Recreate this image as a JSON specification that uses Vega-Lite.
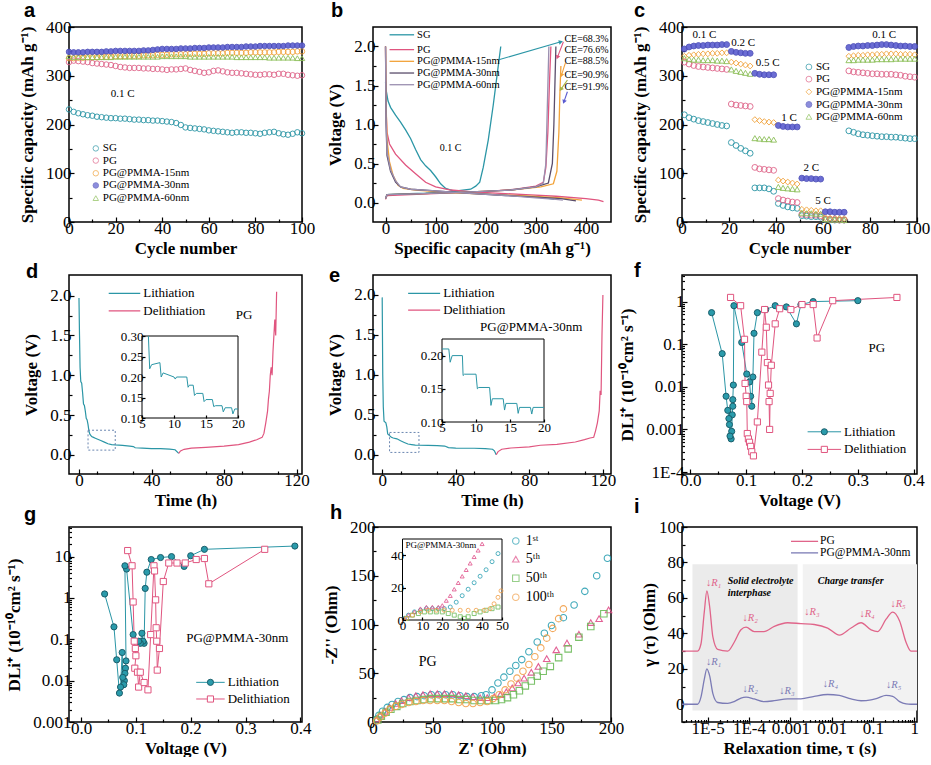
{
  "$schema": "https://vega.github.io/schema/vega-lite/v6.json",
  "padding": {"left": 5, "top": 0, "right": 4, "bottom": 0},
  "background": "white",
  "config": {
    "font": "Liberation Serif",
    "view": {"stroke": "black", "strokeWidth": 1.5},
    "axis": {"grid": false, "domain": false, "tickColor": "black", "tickSize": -5, "tickWidth": 1.2, "labelFont": "Liberation Serif", "labelFontSize": 17, "labelColor": "black", "labelPadding": 3, "labelFlush": false, "labelOverlap": false, "titleFont": "Liberation Serif", "titleFontSize": 17, "titleFontWeight": "bold", "titleColor": "black"},
    "axisX": {"titlePadding": 4},
    "axisY": {"titlePadding": 9},
    "title": {"anchor": "start", "font": "Liberation Sans", "fontSize": 20, "fontWeight": "bold", "color": "black", "baseline": "alphabetic", "frame": "group"},
    "text": {"color": "black"}
  },
  "columns": 3,
  "spacing": {"row": 53, "column": 71},
  "bounds": "flush",
  "resolve": {"scale": {"color": "independent", "fill": "independent", "stroke": "independent", "shape": "independent"}},
  "concat": [
    {
      "title": {"text": "a", "dx": -45, "offset": -3},
      "width": 233, "height": 195,
      "resolve": {"axis": {"x": "independent", "y": "independent"}},
      "layer": [
        {
          "layer": [
            {
              "data": {"values": [
                {"x":0,"SG":231,"PG":328,"P15":336,"P30":349,"P60":340},
                {"x":2,"SG":226,"PG":331,"P15":336,"P30":348,"P60":338},
                {"x":4,"SG":223,"PG":330,"P15":337,"P30":348,"P60":338},
                {"x":6,"SG":221,"PG":329,"P15":337,"P30":348,"P60":338},
                {"x":8,"SG":219,"PG":328,"P15":338,"P30":349,"P60":338},
                {"x":10,"SG":218,"PG":326,"P15":338,"P30":349,"P60":338},
                {"x":12,"SG":216,"PG":325,"P15":338,"P30":349,"P60":338},
                {"x":14,"SG":215,"PG":324,"P15":339,"P30":349,"P60":338},
                {"x":16,"SG":214,"PG":323,"P15":339,"P30":350,"P60":338},
                {"x":18,"SG":213,"PG":322,"P15":339,"P30":350,"P60":338},
                {"x":20,"SG":213,"PG":320,"P15":340,"P30":351,"P60":339},
                {"x":22,"SG":212,"PG":318,"P15":340,"P30":351,"P60":339},
                {"x":24,"SG":212,"PG":317,"P15":340,"P30":351,"P60":339},
                {"x":26,"SG":211,"PG":316,"P15":341,"P30":351,"P60":339},
                {"x":28,"SG":210,"PG":316,"P15":341,"P30":351,"P60":339},
                {"x":30,"SG":210,"PG":316,"P15":341,"P30":351,"P60":339},
                {"x":32,"SG":209,"PG":315,"P15":342,"P30":352,"P60":339},
                {"x":34,"SG":209,"PG":315,"P15":342,"P30":352,"P60":339},
                {"x":36,"SG":208,"PG":314,"P15":342,"P30":353,"P60":339},
                {"x":38,"SG":208,"PG":314,"P15":343,"P30":354,"P60":339},
                {"x":40,"SG":207,"PG":313,"P15":343,"P30":355,"P60":340},
                {"x":42,"SG":206,"PG":312,"P15":343,"P30":355,"P60":340},
                {"x":44,"SG":205,"PG":313,"P15":344,"P30":355,"P60":340},
                {"x":46,"SG":203,"PG":313,"P15":344,"P30":355,"P60":340},
                {"x":48,"SG":199,"PG":314,"P15":344,"P30":356,"P60":340},
                {"x":50,"SG":194,"PG":315,"P15":344,"P30":356,"P60":340},
                {"x":52,"SG":193,"PG":312,"P15":345,"P30":356,"P60":339},
                {"x":54,"SG":192,"PG":310,"P15":345,"P30":357,"P60":339},
                {"x":56,"SG":191,"PG":308,"P15":345,"P30":357,"P60":339},
                {"x":58,"SG":190,"PG":306,"P15":345,"P30":357,"P60":339},
                {"x":60,"SG":188,"PG":307,"P15":346,"P30":358,"P60":339},
                {"x":62,"SG":187,"PG":310,"P15":346,"P30":358,"P60":339},
                {"x":64,"SG":186,"PG":311,"P15":346,"P30":358,"P60":339},
                {"x":66,"SG":185,"PG":309,"P15":346,"P30":358,"P60":339},
                {"x":68,"SG":184,"PG":307,"P15":347,"P30":359,"P60":339},
                {"x":70,"SG":183,"PG":306,"P15":347,"P30":359,"P60":339},
                {"x":72,"SG":184,"PG":306,"P15":347,"P30":359,"P60":338},
                {"x":74,"SG":184,"PG":305,"P15":347,"P30":359,"P60":338},
                {"x":76,"SG":183,"PG":304,"P15":347,"P30":360,"P60":338},
                {"x":78,"SG":183,"PG":303,"P15":348,"P30":360,"P60":338},
                {"x":80,"SG":182,"PG":302,"P15":348,"P30":360,"P60":338},
                {"x":82,"SG":181,"PG":302,"P15":348,"P30":361,"P60":338},
                {"x":84,"SG":183,"PG":303,"P15":348,"P30":361,"P60":338},
                {"x":86,"SG":184,"PG":303,"P15":348,"P30":361,"P60":337},
                {"x":88,"SG":185,"PG":302,"P15":348,"P30":361,"P60":337},
                {"x":90,"SG":182,"PG":304,"P15":349,"P30":361,"P60":337},
                {"x":92,"SG":180,"PG":304,"P15":349,"P30":361,"P60":337},
                {"x":94,"SG":179,"PG":302,"P15":349,"P30":362,"P60":337},
                {"x":96,"SG":181,"PG":301,"P15":349,"P30":362,"P60":337},
                {"x":98,"SG":184,"PG":300,"P15":350,"P30":362,"P60":336},
                {"x":100,"SG":182,"PG":301,"P15":350,"P30":362,"P60":336}
              ]},
              "transform": [{"fold": ["SG", "PG", "P15", "P60", "P30"], "as": ["s", "y"]}],
              "mark": {"type": "point", "size": 30, "strokeWidth": 1, "opacity": 0.9},
              "encoding": {
                "x": {"field": "x", "type": "quantitative", "scale": {"domain": [0, 100], "nice": false}, "axis": {"values": [0, 20, 40, 60, 80, 100], "title": "Cycle number"}},
                "y": {"field": "y", "type": "quantitative", "scale": {"domain": [0, 400], "nice": false}, "axis": {"values": [0, 100, 200, 300, 400], "title": "Specific capacity (mAh g⁻¹)"}},
                "shape": {"field": "s", "type": "nominal", "legend": null, "scale": {"domain": ["SG", "PG", "P15", "P30", "P60"], "range": ["circle", "circle", "circle", "circle", "triangle-up"]}},
                "stroke": {"field": "s", "type": "nominal", "legend": null, "scale": {"domain": ["SG", "PG", "P15", "P30", "P60"], "range": ["#2b96a6", "#e0658a", "#f2a33a", "#4b4db8", "#8cbf58"]}},
                "fill": {"field": "s", "type": "nominal", "legend": null, "scale": {"domain": ["SG", "PG", "P15", "P30", "P60"], "range": ["transparent", "transparent", "transparent", "#5c5ed0", "transparent"]}}
              }
            },
            {
              "data": {"values": [
                {"x": 11.5, "y": 151, "s": "SG", "t": "SG"},
                {"x": 11.5, "y": 126, "s": "PG", "t": "PG"},
                {"x": 11.5, "y": 100, "s": "P15", "t": "PG@PMMA-15nm"},
                {"x": 11.5, "y": 75, "s": "P30", "t": "PG@PMMA-30nm"},
                {"x": 11.5, "y": 49, "s": "P60", "t": "PG@PMMA-60nm"}
              ]},
              "layer": [
                {
                  "mark": {"type": "point", "size": 30, "strokeWidth": 1},
                  "encoding": {
                    "x": {"field": "x", "type": "quantitative"},
                    "y": {"field": "y", "type": "quantitative"},
                    "shape": {"field": "s", "type": "nominal", "legend": null},
                    "stroke": {"field": "s", "type": "nominal", "legend": null},
                    "fill": {"field": "s", "type": "nominal", "legend": null}
                  }
                },
                {
                  "mark": {"type": "text", "align": "left", "baseline": "middle", "fontSize": 11, "dx": 7},
                  "encoding": {"x": {"field": "x", "type": "quantitative"}, "y": {"field": "y", "type": "quantitative"}, "text": {"field": "t"}}
                }
              ]
            },
            {
              "data": {"values": [{"x": 23, "y": 262, "t": "0.1 C"}]},
              "mark": {"type": "text", "fontSize": 11},
              "encoding": {"x": {"field": "x", "type": "quantitative"}, "y": {"field": "y", "type": "quantitative"}, "text": {"field": "t"}}
            }
          ]
        },
        {
          "data": {"values": [{"x": 50, "y": 200}]},
          "mark": {"type": "point", "opacity": 0},
          "encoding": {
            "x": {"field": "x", "type": "quantitative", "axis": {"orient": "bottom", "values": [10, 30, 50, 70, 90], "labels": false, "title": null, "tickSize": -3}},
            "y": {"field": "y", "type": "quantitative", "axis": {"orient": "left", "values": [50, 150, 250, 350], "labels": false, "title": null, "tickSize": -3}}
          }
        }
      ]
    },
    {
      "title": {"text": "b", "dx": -42, "offset": 6},
      "width": 238, "height": 195,
      "resolve": {"axis": {"x": "independent", "y": "independent"}},
      "layer": [
        {
          "layer": [
            {
              "data": {"values": [
                {"s":"SG","k":"SGd","x":0,"y":1.55},{"s":"SG","k":"SGd","x":1,"y":1.45},{"s":"SG","k":"SGd","x":5,"y":1.3},{"s":"SG","k":"SGd","x":10,"y":1.22},{"s":"SG","k":"SGd","x":20,"y":1.12},{"s":"SG","k":"SGd","x":30,"y":1.03},{"s":"SG","k":"SGd","x":40,"y":0.93},{"s":"SG","k":"SGd","x":50,"y":0.82},{"s":"SG","k":"SGd","x":60,"y":0.68},{"s":"SG","k":"SGd","x":70,"y":0.55},{"s":"SG","k":"SGd","x":80,"y":0.47},{"s":"SG","k":"SGd","x":90,"y":0.41},{"s":"SG","k":"SGd","x":100,"y":0.33},{"s":"SG","k":"SGd","x":110,"y":0.24},{"s":"SG","k":"SGd","x":120,"y":0.18},{"s":"SG","k":"SGd","x":140,"y":0.14},{"s":"SG","k":"SGd","x":170,"y":0.12},{"s":"SG","k":"SGd","x":220,"y":0.1},{"s":"SG","k":"SGd","x":280,"y":0.08},{"s":"SG","k":"SGd","x":320,"y":0.06},{"s":"SG","k":"SGd","x":337,"y":0.04},
                {"s":"SG","k":"SGc","x":0,"y":0.05},{"s":"SG","k":"SGc","x":3,"y":0.1},{"s":"SG","k":"SGc","x":30,"y":0.11},{"s":"SG","k":"SGc","x":80,"y":0.12},{"s":"SG","k":"SGc","x":130,"y":0.14},{"s":"SG","k":"SGc","x":170,"y":0.17},{"s":"SG","k":"SGc","x":180,"y":0.21},{"s":"SG","k":"SGc","x":188,"y":0.26},{"s":"SG","k":"SGc","x":195,"y":0.45},{"s":"SG","k":"SGc","x":205,"y":0.8},{"s":"SG","k":"SGc","x":215,"y":1.25},{"s":"SG","k":"SGc","x":222,"y":1.6},{"s":"SG","k":"SGc","x":230,"y":2.0},
                {"s":"PG","k":"PGd","x":0,"y":2.0},{"s":"PG","k":"PGd","x":1,"y":1.2},{"s":"PG","k":"PGd","x":3,"y":0.9},{"s":"PG","k":"PGd","x":8,"y":0.75},{"s":"PG","k":"PGd","x":20,"y":0.62},{"s":"PG","k":"PGd","x":40,"y":0.48},{"s":"PG","k":"PGd","x":60,"y":0.37},{"s":"PG","k":"PGd","x":80,"y":0.26},{"s":"PG","k":"PGd","x":100,"y":0.2},{"s":"PG","k":"PGd","x":130,"y":0.16},{"s":"PG","k":"PGd","x":170,"y":0.14},{"s":"PG","k":"PGd","x":220,"y":0.12},{"s":"PG","k":"PGd","x":280,"y":0.1},{"s":"PG","k":"PGd","x":340,"y":0.08},{"s":"PG","k":"PGd","x":400,"y":0.05},{"s":"PG","k":"PGd","x":425,"y":0.03},{"s":"PG","k":"PGd","x":435,"y":0.01},
                {"s":"PG","k":"PGc","x":0,"y":0.04},{"s":"PG","k":"PGc","x":3,"y":0.09},{"s":"PG","k":"PGc","x":50,"y":0.1},{"s":"PG","k":"PGc","x":120,"y":0.12},{"s":"PG","k":"PGc","x":200,"y":0.14},{"s":"PG","k":"PGc","x":260,"y":0.17},{"s":"PG","k":"PGc","x":300,"y":0.21},{"s":"PG","k":"PGc","x":315,"y":0.26},{"s":"PG","k":"PGc","x":320,"y":0.45},{"s":"PG","k":"PGc","x":324,"y":0.9},{"s":"PG","k":"PGc","x":327,"y":1.5},{"s":"PG","k":"PGc","x":330,"y":2.0},
                {"s":"P15","k":"P15d","x":0,"y":2.0},{"s":"P15","k":"P15d","x":1,"y":1.3},{"s":"P15","k":"P15d","x":3,"y":0.8},{"s":"P15","k":"P15d","x":8,"y":0.52},{"s":"P15","k":"P15d","x":15,"y":0.35},{"s":"P15","k":"P15d","x":25,"y":0.22},{"s":"P15","k":"P15d","x":35,"y":0.18},{"s":"P15","k":"P15d","x":60,"y":0.16},{"s":"P15","k":"P15d","x":100,"y":0.14},{"s":"P15","k":"P15d","x":150,"y":0.12},{"s":"P15","k":"P15d","x":220,"y":0.1},{"s":"P15","k":"P15d","x":290,"y":0.08},{"s":"P15","k":"P15d","x":350,"y":0.06},{"s":"P15","k":"P15d","x":392,"y":0.03},
                {"s":"P15","k":"P15c","x":0,"y":0.05},{"s":"P15","k":"P15c","x":3,"y":0.1},{"s":"P15","k":"P15c","x":60,"y":0.11},{"s":"P15","k":"P15c","x":150,"y":0.13},{"s":"P15","k":"P15c","x":250,"y":0.16},{"s":"P15","k":"P15c","x":310,"y":0.2},{"s":"P15","k":"P15c","x":335,"y":0.24},{"s":"P15","k":"P15c","x":342,"y":0.4},{"s":"P15","k":"P15c","x":346,"y":0.9},{"s":"P15","k":"P15c","x":348,"y":1.4},{"s":"P15","k":"P15c","x":350,"y":1.75},
                {"s":"P30","k":"P30d","x":0,"y":2.0},{"s":"P30","k":"P30d","x":1,"y":1.0},{"s":"P30","k":"P30d","x":3,"y":0.6},{"s":"P30","k":"P30d","x":10,"y":0.4},{"s":"P30","k":"P30d","x":20,"y":0.26},{"s":"P30","k":"P30d","x":30,"y":0.2},{"s":"P30","k":"P30d","x":50,"y":0.17},{"s":"P30","k":"P30d","x":100,"y":0.15},{"s":"P30","k":"P30d","x":160,"y":0.12},{"s":"P30","k":"P30d","x":240,"y":0.09},{"s":"P30","k":"P30d","x":300,"y":0.07},{"s":"P30","k":"P30d","x":350,"y":0.05},{"s":"P30","k":"P30d","x":380,"y":0.02},
                {"s":"P30","k":"P30c","x":0,"y":0.05},{"s":"P30","k":"P30c","x":3,"y":0.1},{"s":"P30","k":"P30c","x":60,"y":0.11},{"s":"P30","k":"P30c","x":150,"y":0.13},{"s":"P30","k":"P30c","x":250,"y":0.16},{"s":"P30","k":"P30c","x":300,"y":0.2},{"s":"P30","k":"P30c","x":325,"y":0.25},{"s":"P30","k":"P30c","x":333,"y":0.5},{"s":"P30","k":"P30c","x":336,"y":1.0},{"s":"P30","k":"P30c","x":338,"y":1.5},{"s":"P30","k":"P30c","x":340,"y":2.0},
                {"s":"P60","k":"P60d","x":0,"y":2.0},{"s":"P60","k":"P60d","x":1,"y":1.1},{"s":"P60","k":"P60d","x":3,"y":0.65},{"s":"P60","k":"P60d","x":10,"y":0.42},{"s":"P60","k":"P60d","x":20,"y":0.28},{"s":"P60","k":"P60d","x":30,"y":0.2},{"s":"P60","k":"P60d","x":50,"y":0.17},{"s":"P60","k":"P60d","x":100,"y":0.15},{"s":"P60","k":"P60d","x":160,"y":0.12},{"s":"P60","k":"P60d","x":240,"y":0.09},{"s":"P60","k":"P60d","x":300,"y":0.06},{"s":"P60","k":"P60d","x":340,"y":0.04},{"s":"P60","k":"P60d","x":354,"y":0.03},
                {"s":"P60","k":"P60c","x":0,"y":0.05},{"s":"P60","k":"P60c","x":3,"y":0.1},{"s":"P60","k":"P60c","x":60,"y":0.11},{"s":"P60","k":"P60c","x":150,"y":0.13},{"s":"P60","k":"P60c","x":250,"y":0.16},{"s":"P60","k":"P60c","x":300,"y":0.2},{"s":"P60","k":"P60c","x":315,"y":0.25},{"s":"P60","k":"P60c","x":320,"y":0.5},{"s":"P60","k":"P60c","x":322,"y":1.0},{"s":"P60","k":"P60c","x":324,"y":1.5},{"s":"P60","k":"P60c","x":326,"y":2.0}
              ]},
              "mark": {"type": "line", "strokeWidth": 1.3},
              "encoding": {
                "x": {"field": "x", "type": "quantitative", "scale": {"domain": [-25, 450], "nice": false, "zero": false}, "axis": {"values": [0, 100, 200, 300, 400], "title": "Specific capacity (mAh g⁻¹)"}},
                "y": {"field": "y", "type": "quantitative", "scale": {"domain": [-0.25, 2.25], "nice": false, "zero": false}, "axis": {"values": [0, 0.5, 1, 1.5, 2], "format": ".1f", "title": "Voltage (V)"}},
                "color": {"field": "s", "type": "nominal", "legend": null, "scale": {"domain": ["SG", "PG", "P15", "P30", "P60"], "range": ["#2b96a6", "#e0557f", "#f2a33a", "#5a4d6b", "#9a8fb0"]}},
                "detail": {"field": "k"}
              }
            },
            {
              "data": {"values": [
                {"x": 8, "x2": 57, "y": 2.15, "s": "SG", "t": "SG"},
                {"x": 8, "x2": 57, "y": 1.96, "s": "PG", "t": "PG"},
                {"x": 8, "x2": 57, "y": 1.81, "s": "P15", "t": "PG@PMMA-15nm"},
                {"x": 8, "x2": 57, "y": 1.66, "s": "P30", "t": "PG@PMMA-30nm"},
                {"x": 8, "x2": 57, "y": 1.51, "s": "P60", "t": "PG@PMMA-60nm"}
              ]},
              "layer": [
                {"mark": {"type": "rule", "strokeWidth": 1.3}, "encoding": {"x": {"field": "x", "type": "quantitative"}, "x2": {"field": "x2"}, "y": {"field": "y", "type": "quantitative"}, "color": {"field": "s", "type": "nominal", "legend": null}}},
                {"mark": {"type": "text", "align": "left", "baseline": "middle", "fontSize": 10.5, "dx": 3}, "encoding": {"x": {"field": "x2", "type": "quantitative"}, "y": {"field": "y", "type": "quantitative"}, "text": {"field": "t"}}}
              ]
            },
            {
              "data": {"values": [
                {"x": 226, "y": 1.83, "x2": 350, "y2": 2.06, "c": "#2b96a6", "a": 74},
                {"x": 355, "y": 2.06, "x2": 343, "y2": 1.86, "c": "#e0557f", "a": 201},
                {"x": 359, "y": 1.79, "x2": 351, "y2": 1.63, "c": "#f2a33a", "a": 198},
                {"x": 363, "y": 1.57, "x2": 350, "y2": 1.45, "c": "#a6b446", "a": 214},
                {"x": 363, "y": 1.42, "x2": 356, "y2": 1.29, "c": "#5a5ad0", "a": 201}
              ]},
              "layer": [
                {"mark": {"type": "rule", "strokeWidth": 1.1}, "encoding": {"x": {"field": "x", "type": "quantitative"}, "x2": {"field": "x2"}, "y": {"field": "y", "type": "quantitative"}, "y2": {"field": "y2"}, "stroke": {"field": "c", "type": "nominal", "scale": null}}},
                {"mark": {"type": "point", "shape": "triangle-up", "filled": true, "size": 22, "opacity": 1}, "encoding": {"x": {"field": "x2", "type": "quantitative"}, "y": {"field": "y2", "type": "quantitative"}, "fill": {"field": "c", "type": "nominal", "scale": null}, "angle": {"field": "a", "type": "quantitative", "scale": null}}}
              ]
            },
            {
              "data": {"values": [
                {"x": 357, "y": 2.09, "t": "CE=68.3%"},
                {"x": 357, "y": 1.96, "t": "CE=76.6%"},
                {"x": 357, "y": 1.81, "t": "CE=88.5%"},
                {"x": 357, "y": 1.64, "t": "CE=90.9%"},
                {"x": 357, "y": 1.48, "t": "CE=91.9%"},
                {"x": 108, "y": 0.7, "t": "0.1 C"}
              ]},
              "mark": {"type": "text", "align": "left", "baseline": "middle", "fontSize": 10},
              "encoding": {"x": {"field": "x", "type": "quantitative"}, "y": {"field": "y", "type": "quantitative"}, "text": {"field": "t"}}
            }
          ]
        },
        {
          "data": {"values": [{"x": 100, "y": 1}]},
          "mark": {"type": "point", "opacity": 0},
          "encoding": {
            "x": {"field": "x", "type": "quantitative", "axis": {"orient": "bottom", "values": [50, 150, 250, 350], "labels": false, "title": null, "tickSize": -3}},
            "y": {"field": "y", "type": "quantitative", "axis": {"orient": "left", "values": [0.25, 0.75, 1.25, 1.75], "labels": false, "title": null, "tickSize": -3}}
          }
        }
      ]
    },
    {
      "title": {"text": "c", "dx": -48, "offset": -3},
      "width": 235, "height": 195,
      "resolve": {"axis": {"x": "independent", "y": "independent"}},
      "layer": [
        {
          "layer": [
            {
              "data": {"values": [
                {"x":1,"SG":220,"PG":328,"P15":340,"P30":355,"P60":336},
                {"x":3,"SG":214,"PG":324,"P15":342,"P30":359,"P60":334},
                {"x":5,"SG":211,"PG":321,"P15":343,"P30":361,"P60":333},
                {"x":7,"SG":208,"PG":319,"P15":344,"P30":362,"P60":333},
                {"x":9,"SG":206,"PG":318,"P15":345,"P30":362,"P60":332},
                {"x":11,"SG":204,"PG":317,"P15":345,"P30":363,"P60":332},
                {"x":13,"SG":202,"PG":316,"P15":346,"P30":363,"P60":332},
                {"x":15,"SG":200,"PG":315,"P15":346,"P30":363,"P60":331},
                {"x":17,"SG":198,"PG":314,"P15":347,"P30":364,"P60":331},
                {"x":19,"SG":197,"PG":313,"P15":347,"P30":364,"P60":330},
                {"x":21,"SG":163,"PG":242,"P15":328,"P30":350,"P60":313},
                {"x":23,"SG":157,"PG":240,"P15":326,"P30":348,"P60":310},
                {"x":25,"SG":151,"PG":239,"P15":324,"P30":347,"P60":308},
                {"x":27,"SG":146,"PG":238,"P15":322,"P30":346,"P60":306},
                {"x":29,"SG":141,"PG":237,"P15":320,"P30":346,"P60":304},
                {"x":31,"SG":70,"PG":112,"P15":210,"P30":305,"P60":172},
                {"x":33,"SG":70,"PG":109,"P15":208,"P30":303,"P60":171},
                {"x":35,"SG":70,"PG":108,"P15":206,"P30":302,"P60":170},
                {"x":37,"SG":68,"PG":107,"P15":205,"P30":302,"P60":170},
                {"x":39,"SG":63,"PG":106,"P15":204,"P30":302,"P60":169},
                {"x":41,"SG":38,"PG":48,"P15":86,"P30":198,"P60":72},
                {"x":43,"SG":34,"PG":45,"P15":84,"P30":196,"P60":70},
                {"x":45,"SG":31,"PG":43,"P15":82,"P30":195,"P60":69},
                {"x":47,"SG":29,"PG":41,"P15":80,"P30":195,"P60":68},
                {"x":49,"SG":28,"PG":40,"P15":78,"P30":195,"P60":67},
                {"x":51,"SG":13,"PG":16,"P15":26,"P30":90,"P60":19},
                {"x":53,"SG":12,"PG":15,"P15":25,"P30":89,"P60":18},
                {"x":55,"SG":11,"PG":14,"P15":24,"P30":89,"P60":18},
                {"x":57,"SG":11,"PG":14,"P15":23,"P30":88,"P60":17},
                {"x":59,"SG":10,"PG":13,"P15":23,"P30":88,"P60":17},
                {"x":61,"SG":5,"PG":6,"P15":9,"P30":21,"P60":6},
                {"x":63,"SG":5,"PG":5,"P15":8,"P30":21,"P60":5},
                {"x":65,"SG":4,"PG":5,"P15":8,"P30":20,"P60":5},
                {"x":67,"SG":4,"PG":4,"P15":7,"P30":20,"P60":5},
                {"x":69,"SG":4,"PG":4,"P15":7,"P30":20,"P60":4},
                {"x":71,"SG":187,"PG":310,"P15":340,"P30":358,"P60":332},
                {"x":73,"SG":184,"PG":308,"P15":341,"P30":360,"P60":332},
                {"x":75,"SG":181,"PG":307,"P15":342,"P30":361,"P60":333},
                {"x":77,"SG":179,"PG":306,"P15":342,"P30":361,"P60":333},
                {"x":79,"SG":178,"PG":305,"P15":343,"P30":362,"P60":333},
                {"x":81,"SG":177,"PG":304,"P15":343,"P30":362,"P60":333},
                {"x":83,"SG":176,"PG":304,"P15":344,"P30":363,"P60":334},
                {"x":85,"SG":175,"PG":303,"P15":344,"P30":364,"P60":334},
                {"x":87,"SG":175,"PG":303,"P15":345,"P30":364,"P60":334},
                {"x":89,"SG":174,"PG":303,"P15":345,"P30":363,"P60":334},
                {"x":91,"SG":174,"PG":302,"P15":345,"P30":362,"P60":335},
                {"x":93,"SG":173,"PG":301,"P15":344,"P30":361,"P60":335},
                {"x":95,"SG":172,"PG":299,"P15":344,"P30":361,"P60":335},
                {"x":97,"SG":171,"PG":298,"P15":344,"P30":360,"P60":335},
                {"x":99,"SG":171,"PG":297,"P15":343,"P30":360,"P60":335}
              ]},
              "transform": [{"fold": ["SG", "PG", "P15", "P60", "P30"], "as": ["s", "y"]}],
              "mark": {"type": "point", "size": 34, "strokeWidth": 1, "opacity": 0.9},
              "encoding": {
                "x": {"field": "x", "type": "quantitative", "scale": {"domain": [0, 100], "nice": false}, "axis": {"values": [0, 20, 40, 60, 80, 100], "title": "Cycle number"}},
                "y": {"field": "y", "type": "quantitative", "scale": {"domain": [0, 400], "nice": false}, "axis": {"values": [0, 100, 200, 300, 400], "title": "Specific capacity (mAh g⁻¹)"}},
                "shape": {"field": "s", "type": "nominal", "legend": null, "scale": {"domain": ["SG", "PG", "P15", "P30", "P60"], "range": ["circle", "circle", "diamond", "circle", "triangle-up"]}},
                "stroke": {"field": "s", "type": "nominal", "legend": null, "scale": {"domain": ["SG", "PG", "P15", "P30", "P60"], "range": ["#2b96a6", "#e0658a", "#f2a33a", "#4b4db8", "#8cbf58"]}},
                "fill": {"field": "s", "type": "nominal", "legend": null, "scale": {"domain": ["SG", "PG", "P15", "P30", "P60"], "range": ["transparent", "transparent", "transparent", "#5c5ed0", "transparent"]}}
              }
            },
            {
              "data": {"values": [
                {"x": 54, "y": 318, "s": "SG", "t": "SG"},
                {"x": 54, "y": 293, "s": "PG", "t": "PG"},
                {"x": 54, "y": 267, "s": "P15", "t": "PG@PMMA-15nm"},
                {"x": 54, "y": 241, "s": "P30", "t": "PG@PMMA-30nm"},
                {"x": 54, "y": 216, "s": "P60", "t": "PG@PMMA-60nm"}
              ]},
              "layer": [
                {
                  "mark": {"type": "point", "size": 34, "strokeWidth": 1},
                  "encoding": {
                    "x": {"field": "x", "type": "quantitative"},
                    "y": {"field": "y", "type": "quantitative"},
                    "shape": {"field": "s", "type": "nominal", "legend": null},
                    "stroke": {"field": "s", "type": "nominal", "legend": null},
                    "fill": {"field": "s", "type": "nominal", "legend": null}
                  }
                },
                {
                  "mark": {"type": "text", "align": "left", "baseline": "middle", "fontSize": 11, "dx": 7},
                  "encoding": {"x": {"field": "x", "type": "quantitative"}, "y": {"field": "y", "type": "quantitative"}, "text": {"field": "t"}}
                }
              ]
            },
            {
              "data": {"values": [
                {"x": 9.5, "y": 384, "t": "0.1 C"},
                {"x": 26, "y": 368, "t": "0.2 C"},
                {"x": 36.5, "y": 327, "t": "0.5 C"},
                {"x": 45.5, "y": 213, "t": "1 C"},
                {"x": 55, "y": 111, "t": "2 C"},
                {"x": 60, "y": 44, "t": "5 C"},
                {"x": 86, "y": 384, "t": "0.1 C"}
              ]},
              "mark": {"type": "text", "fontSize": 11},
              "encoding": {"x": {"field": "x", "type": "quantitative"}, "y": {"field": "y", "type": "quantitative"}, "text": {"field": "t"}}
            }
          ]
        },
        {
          "data": {"values": [{"x": 50, "y": 200}]},
          "mark": {"type": "point", "opacity": 0},
          "encoding": {
            "x": {"field": "x", "type": "quantitative", "axis": {"orient": "bottom", "values": [10, 30, 50, 70, 90], "labels": false, "title": null, "tickSize": -3}},
            "y": {"field": "y", "type": "quantitative", "axis": {"orient": "left", "values": [50, 150, 250, 350], "labels": false, "title": null, "tickSize": -3}}
          }
        }
      ]
    },
    {
      "title": {"text": "d", "dx": -43, "offset": -6.5},
      "width": 233, "height": 199,
      "resolve": {"scale": {"x": "independent", "y": "independent"}},
      "layer": [
        {
          "resolve": {"axis": {"x": "independent", "y": "independent"}},
          "layer": [
            {
              "layer": [
                {
                  "data": {"values": [
                    {"s":"Lithiation","x":0,"y":1.97},{"s":"Lithiation","x":0.3,"y":1.5},{"s":"Lithiation","x":0.6,"y":1.1},{"s":"Lithiation","x":1,"y":0.92},{"s":"Lithiation","x":1.5,"y":0.9},{"s":"Lithiation","x":2,"y":0.78},{"s":"Lithiation","x":2.5,"y":0.64},{"s":"Lithiation","x":3,"y":0.62},{"s":"Lithiation","x":3.5,"y":0.55},{"s":"Lithiation","x":4,"y":0.46},{"s":"Lithiation","x":4.5,"y":0.44},{"s":"Lithiation","x":5,"y":0.38},{"s":"Lithiation","x":5.5,"y":0.3},{"s":"Lithiation","x":6,"y":0.26},{"s":"Lithiation","x":7,"y":0.23},{"s":"Lithiation","x":8,"y":0.22},{"s":"Lithiation","x":9,"y":0.21},{"s":"Lithiation","x":10,"y":0.2},{"s":"Lithiation","x":12,"y":0.18},{"s":"Lithiation","x":14,"y":0.16},{"s":"Lithiation","x":16,"y":0.14},{"s":"Lithiation","x":18,"y":0.13},{"s":"Lithiation","x":20,"y":0.125},{"s":"Lithiation","x":24,"y":0.12},{"s":"Lithiation","x":28,"y":0.11},{"s":"Lithiation","x":30,"y":0.105},{"s":"Lithiation","x":31,"y":0.09},{"s":"Lithiation","x":35,"y":0.085},{"s":"Lithiation","x":40,"y":0.08},{"s":"Lithiation","x":45,"y":0.078},{"s":"Lithiation","x":50,"y":0.072},{"s":"Lithiation","x":53,"y":0.065},{"s":"Lithiation","x":55,"y":0.02},
                    {"s":"Delithiation","x":55,"y":0.02},{"s":"Delithiation","x":56,"y":0.05},{"s":"Delithiation","x":58,"y":0.07},{"s":"Delithiation","x":62,"y":0.085},{"s":"Delithiation","x":70,"y":0.095},{"s":"Delithiation","x":80,"y":0.11},{"s":"Delithiation","x":88,"y":0.13},{"s":"Delithiation","x":94,"y":0.16},{"s":"Delithiation","x":98,"y":0.19},{"s":"Delithiation","x":101,"y":0.22},{"s":"Delithiation","x":102,"y":0.27},{"s":"Delithiation","x":103,"y":0.4},{"s":"Delithiation","x":104,"y":0.55},{"s":"Delithiation","x":104.5,"y":0.7},{"s":"Delithiation","x":105,"y":0.8},{"s":"Delithiation","x":105.5,"y":1.0},{"s":"Delithiation","x":106,"y":1.1},{"s":"Delithiation","x":106.5,"y":1.0},{"s":"Delithiation","x":107,"y":1.3},{"s":"Delithiation","x":107.5,"y":1.5},{"s":"Delithiation","x":108,"y":1.7},{"s":"Delithiation","x":108.5,"y":1.5},{"s":"Delithiation","x":109,"y":2.05}
                  ]},
                  "mark": {"type": "line", "strokeWidth": 1.2},
                  "encoding": {
                    "x": {"field": "x", "type": "quantitative", "scale": {"domain": [-5.5, 123], "nice": false, "zero": false}, "axis": {"values": [0, 20, 40, 60, 80, 100, 120], "title": "Time (h)"}},
                    "y": {"field": "y", "type": "quantitative", "scale": {"domain": [-0.24, 2.26], "nice": false, "zero": false}, "axis": {"values": [0, 0.5, 1, 1.5, 2], "format": ".1f", "title": "Voltage (V)"}},
                    "color": {"field": "s", "type": "nominal", "legend": null, "scale": {"domain": ["Lithiation", "Delithiation"], "range": ["#2b96a6", "#e0557f"]}}
                  }
                },
                {
                  "data": {"values": [{"x": 5, "x2": 20, "y": 0.06, "y2": 0.31}]},
                  "mark": {"type": "rect", "filled": false, "stroke": "#6a86b0", "strokeDash": [2, 2], "strokeWidth": 1},
                  "encoding": {"x": {"field": "x", "type": "quantitative"}, "x2": {"field": "x2"}, "y": {"field": "y", "type": "quantitative"}, "y2": {"field": "y2"}}
                },
                {
                  "data": {"values": [
                    {"x": 16.4, "x2": 33.8, "y": 2.03, "s": "Lithiation", "t": "Lithiation"},
                    {"x": 16.4, "x2": 33.8, "y": 1.81, "s": "Delithiation", "t": "Delithiation"}
                  ]},
                  "layer": [
                    {"mark": {"type": "rule", "strokeWidth": 1.3}, "encoding": {"x": {"field": "x", "type": "quantitative"}, "x2": {"field": "x2"}, "y": {"field": "y", "type": "quantitative"}, "color": {"field": "s", "type": "nominal", "legend": null}}},
                    {"mark": {"type": "text", "align": "left", "baseline": "middle", "fontSize": 13, "dx": 3}, "encoding": {"x": {"field": "x2", "type": "quantitative"}, "y": {"field": "y", "type": "quantitative"}, "text": {"field": "t"}}}
                  ]
                },
                {
                  "data": {"values": [{"x": 91, "y": 1.76, "t": "PG"}]},
                  "mark": {"type": "text", "fontSize": 13},
                  "encoding": {"x": {"field": "x", "type": "quantitative"}, "y": {"field": "y", "type": "quantitative"}, "text": {"field": "t"}}
                }
              ]
            },
            {
              "data": {"values": [{"x": 50, "y": 1}]},
              "mark": {"type": "point", "opacity": 0},
              "encoding": {
                "x": {"field": "x", "type": "quantitative", "axis": {"orient": "bottom", "values": [10, 30, 50, 70, 90, 110], "labels": false, "title": null, "tickSize": -3}},
                "y": {"field": "y", "type": "quantitative", "axis": {"orient": "left", "values": [0.25, 0.75, 1.25, 1.75], "labels": false, "title": null, "tickSize": -3}}
              }
            }
          ]
        },
        {
          "layer": [
            {
              "data": {"values": [{"x": 5, "x2": 20, "y": 0.1, "y2": 0.3}]},
              "mark": {"type": "rect", "fill": "white", "stroke": "black", "strokeWidth": 1},
              "encoding": {
                "x": {"field": "x", "type": "quantitative", "scale": {"domain": [5, 20], "range": [73, 169], "nice": false, "zero": false}, "axis": {"orient": "bottom", "offset": -56, "values": [5, 10, 15, 20], "title": null, "labelFontSize": 13, "tickSize": -3, "labelPadding": 2, "zindex": 1}},
                "x2": {"field": "x2"},
                "y": {"field": "y", "type": "quantitative", "scale": {"domain": [0.1, 0.3], "range": [143, 61], "nice": false, "zero": false}, "axis": {"orient": "left", "offset": -73, "values": [0.1, 0.15, 0.2, 0.25, 0.3], "format": ".2f", "title": null, "labelFontSize": 13, "tickSize": -3, "labelPadding": 2, "zindex": 1}},
                "y2": {"field": "y2"}
              }
            },
            {
              "data": {"values": [
                {"x":6,"y":0.3},{"x":6.2,"y":0.22},{"x":6.5,"y":0.23},{"x":7.8,"y":0.235},{"x":8,"y":0.2},{"x":8.3,"y":0.21},{"x":10,"y":0.2},{"x":10.2,"y":0.195},{"x":10.4,"y":0.2},{"x":12,"y":0.2},{"x":12.2,"y":0.175},{"x":12.4,"y":0.18},{"x":13,"y":0.18},{"x":13.2,"y":0.155},{"x":13.5,"y":0.16},{"x":14.5,"y":0.16},{"x":14.7,"y":0.14},{"x":15,"y":0.145},{"x":16,"y":0.145},{"x":16.2,"y":0.128},{"x":16.5,"y":0.13},{"x":17.5,"y":0.13},{"x":17.7,"y":0.115},{"x":18,"y":0.125},{"x":19,"y":0.125},{"x":19.2,"y":0.11},{"x":19.5,"y":0.122},{"x":20,"y":0.122}
              ]},
              "mark": {"type": "line", "color": "#2b96a6", "strokeWidth": 1},
              "encoding": {"x": {"field": "x", "type": "quantitative"}, "y": {"field": "y", "type": "quantitative"}}
            }
          ]
        }
      ]
    },
    {
      "title": {"text": "e", "dx": -44, "offset": -10.5},
      "width": 238, "height": 199,
      "resolve": {"scale": {"x": "independent", "y": "independent"}},
      "layer": [
        {
          "resolve": {"axis": {"x": "independent", "y": "independent"}},
          "layer": [
            {
              "layer": [
                {
                  "data": {"values": [
                    {"s":"Lithiation","x":0,"y":1.97},{"s":"Lithiation","x":0.3,"y":1.0},{"s":"Lithiation","x":0.6,"y":0.6},{"s":"Lithiation","x":1,"y":0.42},{"s":"Lithiation","x":2,"y":0.4},{"s":"Lithiation","x":2.5,"y":0.35},{"s":"Lithiation","x":3,"y":0.26},{"s":"Lithiation","x":4,"y":0.24},{"s":"Lithiation","x":5,"y":0.22},{"s":"Lithiation","x":6,"y":0.21},{"s":"Lithiation","x":8,"y":0.2},{"s":"Lithiation","x":10,"y":0.175},{"s":"Lithiation","x":12,"y":0.155},{"s":"Lithiation","x":14,"y":0.135},{"s":"Lithiation","x":16,"y":0.128},{"s":"Lithiation","x":18,"y":0.122},{"s":"Lithiation","x":20,"y":0.12},{"s":"Lithiation","x":25,"y":0.118},{"s":"Lithiation","x":30,"y":0.115},{"s":"Lithiation","x":34,"y":0.11},{"s":"Lithiation","x":36,"y":0.09},{"s":"Lithiation","x":40,"y":0.085},{"s":"Lithiation","x":50,"y":0.082},{"s":"Lithiation","x":56,"y":0.078},{"s":"Lithiation","x":60,"y":0.07},{"s":"Lithiation","x":61,"y":0.05},{"s":"Lithiation","x":62,"y":0.0},
                    {"s":"Delithiation","x":62,"y":0.0},{"s":"Delithiation","x":63,"y":0.04},{"s":"Delithiation","x":65,"y":0.07},{"s":"Delithiation","x":70,"y":0.085},{"s":"Delithiation","x":80,"y":0.1},{"s":"Delithiation","x":86,"y":0.12},{"s":"Delithiation","x":95,"y":0.13},{"s":"Delithiation","x":105,"y":0.16},{"s":"Delithiation","x":110,"y":0.19},{"s":"Delithiation","x":113,"y":0.21},{"s":"Delithiation","x":115,"y":0.22},{"s":"Delithiation","x":116,"y":0.3},{"s":"Delithiation","x":117,"y":0.4},{"s":"Delithiation","x":118,"y":0.55},{"s":"Delithiation","x":118.5,"y":0.8},{"s":"Delithiation","x":119,"y":0.75},{"s":"Delithiation","x":119.5,"y":1.5},{"s":"Delithiation","x":120,"y":2.0}
                  ]},
                  "mark": {"type": "line", "strokeWidth": 1.2},
                  "encoding": {
                    "x": {"field": "x", "type": "quantitative", "scale": {"domain": [-5, 124.4], "nice": false, "zero": false}, "axis": {"values": [0, 20, 40, 60, 80, 100, 120], "title": "Time (h)"}},
                    "y": {"field": "y", "type": "quantitative", "scale": {"domain": [-0.24, 2.25], "nice": false, "zero": false}, "axis": {"values": [0, 0.5, 1, 1.5, 2], "format": ".1f", "title": "Voltage (V)"}},
                    "color": {"field": "s", "type": "nominal", "legend": null, "scale": {"domain": ["Lithiation", "Delithiation"], "range": ["#2b96a6", "#e0557f"]}}
                  }
                },
                {
                  "data": {"values": [{"x": 4, "x2": 20, "y": 0.03, "y2": 0.28}]},
                  "mark": {"type": "rect", "filled": false, "stroke": "#6a86b0", "strokeDash": [2, 2], "strokeWidth": 1},
                  "encoding": {"x": {"field": "x", "type": "quantitative"}, "x2": {"field": "x2"}, "y": {"field": "y", "type": "quantitative"}, "y2": {"field": "y2"}}
                },
                {
                  "data": {"values": [
                    {"x": 14.1, "x2": 31.5, "y": 2.02, "s": "Lithiation", "t": "Lithiation"},
                    {"x": 14.1, "x2": 31.5, "y": 1.81, "s": "Delithiation", "t": "Delithiation"}
                  ]},
                  "layer": [
                    {"mark": {"type": "rule", "strokeWidth": 1.3}, "encoding": {"x": {"field": "x", "type": "quantitative"}, "x2": {"field": "x2"}, "y": {"field": "y", "type": "quantitative"}, "color": {"field": "s", "type": "nominal", "legend": null}}},
                    {"mark": {"type": "text", "align": "left", "baseline": "middle", "fontSize": 13, "dx": 3}, "encoding": {"x": {"field": "x2", "type": "quantitative"}, "y": {"field": "y", "type": "quantitative"}, "text": {"field": "t"}}}
                  ]
                },
                {
                  "data": {"values": [{"x": 81, "y": 1.6, "t": "PG@PMMA-30nm"}]},
                  "mark": {"type": "text", "fontSize": 13},
                  "encoding": {"x": {"field": "x", "type": "quantitative"}, "y": {"field": "y", "type": "quantitative"}, "text": {"field": "t"}}
                }
              ]
            },
            {
              "data": {"values": [{"x": 50, "y": 1}]},
              "mark": {"type": "point", "opacity": 0},
              "encoding": {
                "x": {"field": "x", "type": "quantitative", "axis": {"orient": "bottom", "values": [10, 30, 50, 70, 90, 110], "labels": false, "title": null, "tickSize": -3}},
                "y": {"field": "y", "type": "quantitative", "axis": {"orient": "left", "values": [0.25, 0.75, 1.25, 1.75], "labels": false, "title": null, "tickSize": -3}}
              }
            }
          ]
        },
        {
          "layer": [
            {
              "data": {"values": [{"x": 5, "x2": 20, "y": 0.1, "y2": 0.225}]},
              "mark": {"type": "rect", "fill": "white", "stroke": "black", "strokeWidth": 1},
              "encoding": {
                "x": {"field": "x", "type": "quantitative", "scale": {"domain": [5, 20], "range": [69, 171], "nice": false, "zero": false}, "axis": {"orient": "bottom", "offset": -52, "values": [5, 10, 15, 20], "title": null, "labelFontSize": 13, "tickSize": -3, "labelPadding": 2, "zindex": 1}},
                "x2": {"field": "x2"},
                "y": {"field": "y", "type": "quantitative", "scale": {"domain": [0.1, 0.225], "range": [147, 64], "nice": false, "zero": false}, "axis": {"orient": "left", "offset": -69, "values": [0.1, 0.15, 0.2], "format": ".2f", "title": null, "labelFontSize": 13, "tickSize": -3, "labelPadding": 2, "zindex": 1}},
                "y2": {"field": "y2"}
              }
            },
            {
              "data": {"values": [
                {"x":5,"y":0.21},{"x":6,"y":0.21},{"x":6.2,"y":0.19},{"x":6.5,"y":0.2},{"x":8,"y":0.2},{"x":8.1,"y":0.17},{"x":8.3,"y":0.172},{"x":10,"y":0.172},{"x":10.2,"y":0.15},{"x":10.4,"y":0.152},{"x":12,"y":0.152},{"x":12.2,"y":0.125},{"x":12.4,"y":0.135},{"x":14,"y":0.135},{"x":14.2,"y":0.118},{"x":14.4,"y":0.128},{"x":16,"y":0.128},{"x":16.2,"y":0.113},{"x":16.4,"y":0.122},{"x":18,"y":0.122},{"x":18.2,"y":0.112},{"x":18.4,"y":0.122},{"x":20,"y":0.122}
              ]},
              "mark": {"type": "line", "color": "#2b96a6", "strokeWidth": 1},
              "encoding": {"x": {"field": "x", "type": "quantitative"}, "y": {"field": "y", "type": "quantitative"}}
            }
          ]
        }
      ]
    },
    {
      "title": {"text": "f", "dx": -48, "offset": -5.5},
      "width": 235, "height": 199,
      "resolve": {"axis": {"x": "independent", "y": "independent"}},
      "layer": [
        {
          "layer": [
            {
              "data": {"values": [
                {"s":"L","i":1,"x":0.300,"y":1.05},{"s":"L","i":2,"x":0.220,"y":1.0},{"s":"L","i":3,"x":0.198,"y":0.85},{"s":"L","i":4,"x":0.190,"y":0.30},{"s":"L","i":5,"x":0.172,"y":0.75},{"s":"L","i":6,"x":0.152,"y":0.80},{"s":"L","i":7,"x":0.135,"y":0.65},{"s":"L","i":8,"x":0.120,"y":0.55},{"s":"L","i":9,"x":0.114,"y":0.18},{"s":"L","i":10,"x":0.112,"y":0.017},{"s":"L","i":11,"x":0.110,"y":0.0035},{"s":"L","i":12,"x":0.108,"y":0.006},{"s":"L","i":13,"x":0.106,"y":0.013},{"s":"L","i":14,"x":0.101,"y":0.02},{"s":"L","i":15,"x":0.092,"y":0.11},{"s":"L","i":16,"x":0.078,"y":0.80},{"s":"L","i":17,"x":0.077,"y":0.011},{"s":"L","i":18,"x":0.076,"y":0.005},{"s":"L","i":19,"x":0.076,"y":0.0035},{"s":"L","i":20,"x":0.075,"y":0.0022},{"s":"L","i":21,"x":0.074,"y":0.0009},{"s":"L","i":22,"x":0.073,"y":0.0006},{"s":"L","i":23,"x":0.071,"y":0.0007},{"s":"L","i":24,"x":0.070,"y":0.0013},{"s":"L","i":25,"x":0.069,"y":0.0018},{"s":"L","i":26,"x":0.067,"y":0.0028},{"s":"L","i":27,"x":0.064,"y":0.006},{"s":"L","i":28,"x":0.057,"y":0.06},{"s":"L","i":29,"x":0.038,"y":0.55},
                {"s":"D","i":1,"x":0.072,"y":1.25},{"s":"D","i":2,"x":0.090,"y":0.80},{"s":"D","i":3,"x":0.097,"y":0.13},{"s":"D","i":4,"x":0.098,"y":0.012},{"s":"D","i":5,"x":0.100,"y":0.006},{"s":"D","i":6,"x":0.101,"y":0.0045},{"s":"D","i":7,"x":0.102,"y":0.0008},{"s":"D","i":8,"x":0.104,"y":0.0006},{"s":"D","i":9,"x":0.106,"y":0.0005},{"s":"D","i":10,"x":0.108,"y":0.0004},{"s":"D","i":11,"x":0.110,"y":0.0003},{"s":"D","i":12,"x":0.113,"y":0.00024},{"s":"D","i":13,"x":0.120,"y":0.0015},{"s":"D","i":14,"x":0.128,"y":0.065},{"s":"D","i":15,"x":0.133,"y":0.65},{"s":"D","i":16,"x":0.136,"y":0.25},{"s":"D","i":17,"x":0.138,"y":0.037},{"s":"D","i":18,"x":0.140,"y":0.011},{"s":"D","i":19,"x":0.141,"y":0.0045},{"s":"D","i":20,"x":0.142,"y":0.001},{"s":"D","i":21,"x":0.143,"y":0.007},{"s":"D","i":22,"x":0.145,"y":0.032},{"s":"D","i":23,"x":0.152,"y":0.30},{"s":"D","i":24,"x":0.160,"y":0.68},{"s":"D","i":25,"x":0.180,"y":0.65},{"s":"D","i":26,"x":0.200,"y":0.85},{"s":"D","i":27,"x":0.220,"y":0.85},{"s":"D","i":28,"x":0.227,"y":0.14},{"s":"D","i":29,"x":0.255,"y":1.05},{"s":"D","i":30,"x":0.370,"y":1.25}
              ]},
              "layer": [
                {
                  "mark": {"type": "line", "strokeWidth": 1},
                  "encoding": {
                    "x": {"field": "x", "type": "quantitative", "scale": {"domain": [-0.015, 0.406], "nice": false, "zero": false}, "axis": {"values": [0, 0.1, 0.2, 0.3, 0.4], "format": ".1f", "title": "Voltage (V)"}},
                    "y": {"field": "y", "type": "quantitative", "scale": {"type": "log", "domain": [0.00009, 4.2], "nice": false}, "axis": {"values": [0.0001, 0.001, 0.01, 0.1, 1], "labelExpr": "datum.value < 0.0005 ? '1E-4' : datum.value < 0.005 ? '0.001' : datum.value < 0.05 ? '0.01' : datum.value < 0.5 ? '0.1' : '1'", "title": "DLi⁺ (10⁻¹⁰cm² s⁻¹)"}},
                    "color": {"field": "s", "type": "nominal", "legend": null, "scale": {"domain": ["L", "D"], "range": ["#2b96a6", "#e0557f"]}},
                    "order": {"field": "i"}
                  }
                },
                {
                  "mark": {"type": "point", "size": 38, "strokeWidth": 1, "opacity": 1},
                  "encoding": {
                    "x": {"field": "x", "type": "quantitative"},
                    "y": {"field": "y", "type": "quantitative"},
                    "shape": {"field": "s", "type": "nominal", "legend": null, "scale": {"domain": ["L", "D"], "range": ["circle", "square"]}},
                    "fill": {"field": "s", "type": "nominal", "legend": null, "scale": {"domain": ["L", "D"], "range": ["#2a9bab", "white"]}},
                    "stroke": {"field": "s", "type": "nominal", "legend": null, "scale": {"domain": ["L", "D"], "range": ["#1b5e6b", "#e0557f"]}}
                  }
                }
              ]
            },
            {
              "data": {"values": [
                {"s": "L", "x": 0.21, "x2": 0.27, "xm": 0.24, "y": 0.00088, "t": "Lithiation"},
                {"s": "D", "x": 0.21, "x2": 0.27, "xm": 0.24, "y": 0.00034, "t": "Delithiation"}
              ]},
              "layer": [
                {"mark": {"type": "rule", "strokeWidth": 1}, "encoding": {"x": {"field": "x", "type": "quantitative"}, "x2": {"field": "x2"}, "y": {"field": "y", "type": "quantitative"}, "color": {"field": "s", "type": "nominal", "legend": null}}},
                {"mark": {"type": "point", "size": 38, "strokeWidth": 1, "opacity": 1}, "encoding": {"x": {"field": "xm", "type": "quantitative"}, "y": {"field": "y", "type": "quantitative"}, "shape": {"field": "s", "type": "nominal", "legend": null}, "fill": {"field": "s", "type": "nominal", "legend": null}, "stroke": {"field": "s", "type": "nominal", "legend": null}}},
                {"mark": {"type": "text", "align": "left", "baseline": "middle", "fontSize": 13, "dx": 3}, "encoding": {"x": {"field": "x2", "type": "quantitative"}, "y": {"field": "y", "type": "quantitative"}, "text": {"field": "t"}}}
              ]
            },
            {
              "data": {"values": [{"x": 0.334, "y": 0.082, "t": "PG"}]},
              "mark": {"type": "text", "fontSize": 13},
              "encoding": {"x": {"field": "x", "type": "quantitative"}, "y": {"field": "y", "type": "quantitative"}, "text": {"field": "t"}}
            }
          ]
        },
        {
          "data": {"values": [{"x": 0.2, "y": 0.1}]},
          "mark": {"type": "point", "opacity": 0},
          "encoding": {
            "x": {"field": "x", "type": "quantitative", "axis": {"orient": "bottom", "values": [0.05, 0.15, 0.25, 0.35], "labels": false, "title": null, "tickSize": -3}},
            "y": {"field": "y", "type": "quantitative", "axis": {"orient": "left", "values": [0.0002, 0.0003, 0.0004, 0.0005, 0.0006, 0.0007, 0.0008, 0.0009, 0.002, 0.003, 0.004, 0.005, 0.006, 0.007, 0.008, 0.009, 0.02, 0.03, 0.04, 0.05, 0.06, 0.07, 0.08, 0.09, 0.2, 0.3, 0.4, 0.5, 0.6, 0.7, 0.8, 0.9, 2, 3, 4], "labels": false, "title": null, "tickSize": -2.5}}
          }
        }
      ]
    },
    {
      "title": {"text": "g", "dx": -45, "offset": 2},
      "width": 233, "height": 195,
      "resolve": {"axis": {"x": "independent", "y": "independent"}},
      "layer": [
        {
          "layer": [
            {
              "data": {"values": [
                {"s":"L","i":1,"x":0.390,"y":18},{"s":"L","i":2,"x":0.225,"y":15},{"s":"L","i":3,"x":0.200,"y":10.5},{"s":"L","i":4,"x":0.188,"y":5.8},{"s":"L","i":5,"x":0.165,"y":10},{"s":"L","i":6,"x":0.145,"y":9.5},{"s":"L","i":7,"x":0.128,"y":8.5},{"s":"L","i":8,"x":0.120,"y":4.2},{"s":"L","i":9,"x":0.117,"y":1.7},{"s":"L","i":10,"x":0.115,"y":0.08},{"s":"L","i":11,"x":0.113,"y":0.09},{"s":"L","i":12,"x":0.111,"y":0.14},{"s":"L","i":13,"x":0.108,"y":0.08},{"s":"L","i":14,"x":0.105,"y":0.09},{"s":"L","i":15,"x":0.095,"y":0.13},{"s":"L","i":16,"x":0.083,"y":5},{"s":"L","i":17,"x":0.080,"y":6},{"s":"L","i":18,"x":0.082,"y":0.03},{"s":"L","i":19,"x":0.081,"y":0.02},{"s":"L","i":20,"x":0.080,"y":0.015},{"s":"L","i":21,"x":0.079,"y":0.01},{"s":"L","i":22,"x":0.078,"y":0.008},{"s":"L","i":23,"x":0.076,"y":0.012},{"s":"L","i":24,"x":0.075,"y":0.048},{"s":"L","i":25,"x":0.072,"y":0.007},{"s":"L","i":26,"x":0.070,"y":0.005},{"s":"L","i":27,"x":0.065,"y":0.032},{"s":"L","i":28,"x":0.060,"y":0.2},{"s":"L","i":29,"x":0.043,"y":1.25},
                {"s":"D","i":1,"x":0.085,"y":14},{"s":"D","i":2,"x":0.093,"y":6},{"s":"D","i":3,"x":0.095,"y":0.8},{"s":"D","i":4,"x":0.097,"y":0.09},{"s":"D","i":5,"x":0.099,"y":0.06},{"s":"D","i":6,"x":0.100,"y":0.04},{"s":"D","i":7,"x":0.098,"y":0.02},{"s":"D","i":8,"x":0.103,"y":0.016},{"s":"D","i":9,"x":0.105,"y":0.007},{"s":"D","i":10,"x":0.108,"y":0.016},{"s":"D","i":11,"x":0.115,"y":0.009},{"s":"D","i":12,"x":0.122,"y":0.006},{"s":"D","i":13,"x":0.127,"y":0.13},{"s":"D","i":14,"x":0.133,"y":6},{"s":"D","i":15,"x":0.134,"y":4.5},{"s":"D","i":16,"x":0.136,"y":0.9},{"s":"D","i":17,"x":0.137,"y":0.19},{"s":"D","i":18,"x":0.138,"y":0.09},{"s":"D","i":19,"x":0.139,"y":0.018},{"s":"D","i":20,"x":0.143,"y":0.06},{"s":"D","i":21,"x":0.150,"y":2.5},{"s":"D","i":22,"x":0.160,"y":7},{"s":"D","i":23,"x":0.175,"y":7},{"s":"D","i":24,"x":0.190,"y":7},{"s":"D","i":25,"x":0.210,"y":8.5},{"s":"D","i":26,"x":0.225,"y":9},{"s":"D","i":27,"x":0.233,"y":2.2},{"s":"D","i":28,"x":0.335,"y":15}
              ]},
              "layer": [
                {
                  "mark": {"type": "line", "strokeWidth": 1},
                  "encoding": {
                    "x": {"field": "x", "type": "quantitative", "scale": {"domain": [-0.022, 0.403], "nice": false, "zero": false}, "axis": {"values": [0, 0.1, 0.2, 0.3, 0.4], "format": ".1f", "title": "Voltage (V)"}},
                    "y": {"field": "y", "type": "quantitative", "scale": {"type": "log", "domain": [0.001, 52], "nice": false}, "axis": {"values": [0.001, 0.01, 0.1, 1, 10], "labelExpr": "datum.value < 0.005 ? '0.001' : datum.value < 0.05 ? '0.01' : datum.value < 0.5 ? '0.1' : datum.value < 5 ? '1' : '10'", "title": "DLi⁺ (10⁻¹⁰cm² s⁻¹)"}},
                    "color": {"field": "s", "type": "nominal", "legend": null, "scale": {"domain": ["L", "D"], "range": ["#2b96a6", "#e0557f"]}},
                    "order": {"field": "i"}
                  }
                },
                {
                  "mark": {"type": "point", "size": 38, "strokeWidth": 1, "opacity": 1},
                  "encoding": {
                    "x": {"field": "x", "type": "quantitative"},
                    "y": {"field": "y", "type": "quantitative"},
                    "shape": {"field": "s", "type": "nominal", "legend": null, "scale": {"domain": ["L", "D"], "range": ["circle", "square"]}},
                    "fill": {"field": "s", "type": "nominal", "legend": null, "scale": {"domain": ["L", "D"], "range": ["#2a9bab", "white"]}},
                    "stroke": {"field": "s", "type": "nominal", "legend": null, "scale": {"domain": ["L", "D"], "range": ["#1b5e6b", "#e0557f"]}}
                  }
                }
              ]
            },
            {
              "data": {"values": [
                {"s": "L", "x": 0.21, "x2": 0.262, "xm": 0.236, "y": 0.0091, "t": "Lithiation"},
                {"s": "D", "x": 0.21, "x2": 0.262, "xm": 0.236, "y": 0.0036, "t": "Delithiation"}
              ]},
              "layer": [
                {"mark": {"type": "rule", "strokeWidth": 1}, "encoding": {"x": {"field": "x", "type": "quantitative"}, "x2": {"field": "x2"}, "y": {"field": "y", "type": "quantitative"}, "color": {"field": "s", "type": "nominal", "legend": null}}},
                {"mark": {"type": "point", "size": 38, "strokeWidth": 1, "opacity": 1}, "encoding": {"x": {"field": "xm", "type": "quantitative"}, "y": {"field": "y", "type": "quantitative"}, "shape": {"field": "s", "type": "nominal", "legend": null}, "fill": {"field": "s", "type": "nominal", "legend": null}, "stroke": {"field": "s", "type": "nominal", "legend": null}}},
                {"mark": {"type": "text", "align": "left", "baseline": "middle", "fontSize": 13, "dx": 3}, "encoding": {"x": {"field": "x2", "type": "quantitative"}, "y": {"field": "y", "type": "quantitative"}, "text": {"field": "t"}}}
              ]
            },
            {
              "data": {"values": [{"x": 0.285, "y": 0.105, "t": "PG@PMMA-30nm"}]},
              "mark": {"type": "text", "fontSize": 13},
              "encoding": {"x": {"field": "x", "type": "quantitative"}, "y": {"field": "y", "type": "quantitative"}, "text": {"field": "t"}}
            }
          ]
        },
        {
          "data": {"values": [{"x": 0.2, "y": 1}]},
          "mark": {"type": "point", "opacity": 0},
          "encoding": {
            "x": {"field": "x", "type": "quantitative", "axis": {"orient": "bottom", "values": [0.05, 0.15, 0.25, 0.35], "labels": false, "title": null, "tickSize": -3}},
            "y": {"field": "y", "type": "quantitative", "axis": {"orient": "left", "values": [0.002, 0.003, 0.004, 0.005, 0.006, 0.007, 0.008, 0.009, 0.02, 0.03, 0.04, 0.05, 0.06, 0.07, 0.08, 0.09, 0.2, 0.3, 0.4, 0.5, 0.6, 0.7, 0.8, 0.9, 2, 3, 4, 5, 6, 7, 8, 9, 20, 30, 40, 50], "labels": false, "title": null, "tickSize": -2.5}}
          }
        }
      ]
    },
    {
      "title": {"text": "h", "dx": -43, "offset": -5},
      "width": 238, "height": 195,
      "resolve": {"scale": {"x": "independent", "y": "independent"}},
      "layer": [
        {
          "resolve": {"axis": {"x": "independent", "y": "independent"}},
          "layer": [
            {
              "layer": [
                {
                  "data": {"values": [
                    {"s":"1st","x":3,"y":3},{"s":"1st","x":5,"y":7},{"s":"1st","x":8,"y":11},{"s":"1st","x":12,"y":15},{"s":"1st","x":16,"y":18},{"s":"1st","x":21,"y":21},{"s":"1st","x":26,"y":23},{"s":"1st","x":31,"y":25},{"s":"1st","x":37,"y":26},{"s":"1st","x":43,"y":27},{"s":"1st","x":49,"y":28},{"s":"1st","x":55,"y":28},{"s":"1st","x":61,"y":28},{"s":"1st","x":67,"y":28},{"s":"1st","x":73,"y":27},{"s":"1st","x":79,"y":26},{"s":"1st","x":85,"y":26},{"s":"1st","x":91,"y":27},{"s":"1st","x":95,"y":28},{"s":"1st","x":100,"y":33},{"s":"1st","x":105,"y":40},{"s":"1st","x":110,"y":46},{"s":"1st","x":115,"y":52},{"s":"1st","x":120,"y":58},{"s":"1st","x":125,"y":64},{"s":"1st","x":131,"y":72},{"s":"1st","x":138,"y":82},{"s":"1st","x":144,"y":91},{"s":"1st","x":150,"y":99},{"s":"1st","x":160,"y":107},{"s":"1st","x":169,"y":120},{"s":"1st","x":178,"y":134},{"s":"1st","x":188,"y":150},{"s":"1st","x":197,"y":168},
                    {"s":"5th","x":3,"y":3},{"s":"5th","x":6,"y":7},{"s":"5th","x":10,"y":11},{"s":"5th","x":14,"y":15},{"s":"5th","x":19,"y":19},{"s":"5th","x":24,"y":22},{"s":"5th","x":30,"y":25},{"s":"5th","x":36,"y":27},{"s":"5th","x":42,"y":28},{"s":"5th","x":48,"y":29},{"s":"5th","x":54,"y":29},{"s":"5th","x":60,"y":29},{"s":"5th","x":66,"y":29},{"s":"5th","x":72,"y":28},{"s":"5th","x":78,"y":27},{"s":"5th","x":84,"y":26},{"s":"5th","x":90,"y":25},{"s":"5th","x":96,"y":25},{"s":"5th","x":102,"y":26},{"s":"5th","x":107,"y":28},{"s":"5th","x":112,"y":31},{"s":"5th","x":117,"y":35},{"s":"5th","x":122,"y":40},{"s":"5th","x":127,"y":45},{"s":"5th","x":133,"y":51},{"s":"5th","x":139,"y":57},{"s":"5th","x":146,"y":65},{"s":"5th","x":154,"y":74},{"s":"5th","x":163,"y":81},{"s":"5th","x":173,"y":90},{"s":"5th","x":183,"y":102},{"s":"5th","x":190,"y":106},{"s":"5th","x":198,"y":115},
                    {"s":"50th","x":4,"y":2},{"s":"50th","x":7,"y":6},{"s":"50th","x":11,"y":10},{"s":"50th","x":15,"y":13},{"s":"50th","x":20,"y":16},{"s":"50th","x":25,"y":19},{"s":"50th","x":31,"y":21},{"s":"50th","x":37,"y":22},{"s":"50th","x":43,"y":23},{"s":"50th","x":49,"y":24},{"s":"50th","x":55,"y":24},{"s":"50th","x":61,"y":24},{"s":"50th","x":67,"y":24},{"s":"50th","x":73,"y":23},{"s":"50th","x":79,"y":23},{"s":"50th","x":85,"y":22},{"s":"50th","x":91,"y":22},{"s":"50th","x":97,"y":22},{"s":"50th","x":103,"y":22},{"s":"50th","x":108,"y":23},{"s":"50th","x":113,"y":25},{"s":"50th","x":118,"y":28},{"s":"50th","x":123,"y":32},{"s":"50th","x":128,"y":37},{"s":"50th","x":133,"y":42},{"s":"50th","x":138,"y":47},{"s":"50th","x":143,"y":52},{"s":"50th","x":149,"y":57},{"s":"50th","x":156,"y":66},{"s":"50th","x":164,"y":75},{"s":"50th","x":173,"y":87},{"s":"50th","x":183,"y":98},{"s":"50th","x":194,"y":111},
                    {"s":"100th","x":3,"y":1},{"s":"100th","x":6,"y":5},{"s":"100th","x":10,"y":9},{"s":"100th","x":14,"y":13},{"s":"100th","x":19,"y":16},{"s":"100th","x":24,"y":18},{"s":"100th","x":30,"y":20},{"s":"100th","x":36,"y":21},{"s":"100th","x":42,"y":22},{"s":"100th","x":48,"y":22},{"s":"100th","x":54,"y":22},{"s":"100th","x":60,"y":22},{"s":"100th","x":66,"y":21},{"s":"100th","x":72,"y":20},{"s":"100th","x":78,"y":19},{"s":"100th","x":84,"y":19},{"s":"100th","x":90,"y":20},{"s":"100th","x":96,"y":21},{"s":"100th","x":101,"y":24},{"s":"100th","x":106,"y":28},{"s":"100th","x":111,"y":33},{"s":"100th","x":116,"y":39},{"s":"100th","x":121,"y":45},{"s":"100th","x":126,"y":52},{"s":"100th","x":131,"y":59},{"s":"100th","x":136,"y":67},{"s":"100th","x":141,"y":76},{"s":"100th","x":146,"y":86},{"s":"100th","x":151,"y":96},{"s":"100th","x":156,"y":106},{"s":"100th","x":160,"y":116}
                  ]},
                  "mark": {"type": "point", "size": 42, "strokeWidth": 1.1, "filled": false, "opacity": 0.9},
                  "encoding": {
                    "x": {"field": "x", "type": "quantitative", "scale": {"domain": [0, 200], "nice": false}, "axis": {"values": [0, 50, 100, 150, 200], "title": "Z' (Ohm)"}},
                    "y": {"field": "y", "type": "quantitative", "scale": {"domain": [0, 200], "nice": false}, "axis": {"values": [0, 50, 100, 150, 200], "title": "-Z'' (Ohm)"}},
                    "shape": {"field": "s", "type": "nominal", "legend": null, "scale": {"domain": ["1st", "5th", "50th", "100th"], "range": ["circle", "triangle-up", "square", "circle"]}},
                    "color": {"field": "s", "type": "nominal", "legend": null, "scale": {"domain": ["1st", "5th", "50th", "100th"], "range": ["#2ba0b3", "#e0508a", "#6dbb5a", "#f2a04a"]}}
                  }
                },
                {
                  "data": {"values": [
                    {"s": "1st", "x": 120, "y": 185.6, "t": "1ˢᵗ"},
                    {"s": "5th", "x": 120, "y": 167, "t": "5ᵗʰ"},
                    {"s": "50th", "x": 120, "y": 147.5, "t": "50ᵗʰ"},
                    {"s": "100th", "x": 120, "y": 128, "t": "100ᵗʰ"}
                  ]},
                  "layer": [
                    {"mark": {"type": "point", "size": 42, "strokeWidth": 1.1, "filled": false}, "encoding": {"x": {"field": "x", "type": "quantitative"}, "y": {"field": "y", "type": "quantitative"}, "shape": {"field": "s", "type": "nominal", "legend": null}, "color": {"field": "s", "type": "nominal", "legend": null}}},
                    {"mark": {"type": "text", "align": "left", "baseline": "middle", "fontSize": 14, "dx": 10}, "encoding": {"x": {"field": "x", "type": "quantitative"}, "y": {"field": "y", "type": "quantitative"}, "text": {"field": "t"}}}
                  ]
                },
                {
                  "data": {"values": [{"x": 46, "y": 61.5, "t": "PG"}]},
                  "mark": {"type": "text", "fontSize": 14},
                  "encoding": {"x": {"field": "x", "type": "quantitative"}, "y": {"field": "y", "type": "quantitative"}, "text": {"field": "t"}}
                }
              ]
            },
            {
              "data": {"values": [{"x": 100, "y": 100}]},
              "mark": {"type": "point", "opacity": 0},
              "encoding": {
                "x": {"field": "x", "type": "quantitative", "axis": {"orient": "bottom", "values": [25, 75, 125, 175], "labels": false, "title": null, "tickSize": -3}},
                "y": {"field": "y", "type": "quantitative", "axis": {"orient": "left", "values": [25, 75, 125, 175], "labels": false, "title": null, "tickSize": -3}}
              }
            }
          ]
        },
        {
          "layer": [
            {
              "data": {"values": [{"x": 0, "x2": 50, "y": 0, "y2": 50}]},
              "mark": {"type": "rect", "fill": "white", "stroke": "black", "strokeWidth": 1},
              "encoding": {
                "x": {"field": "x", "type": "quantitative", "scale": {"domain": [0, 50], "range": [29.5, 129], "nice": false, "zero": false}, "axis": {"orient": "bottom", "offset": -102, "values": [0, 10, 20, 30, 40, 50], "title": null, "labelFontSize": 13, "tickSize": -3, "labelPadding": 2, "zindex": 1}},
                "x2": {"field": "x2"},
                "y": {"field": "y", "type": "quantitative", "scale": {"domain": [0, 50], "range": [93, 12], "nice": false, "zero": false}, "axis": {"orient": "left", "offset": -29.5, "values": [0, 10, 20, 30, 40, 50], "title": null, "labelFontSize": 13, "tickSize": -3, "labelPadding": 2, "zindex": 1}},
                "y2": {"field": "y2"}
              }
            },
            {
              "data": {"values": [
                {"s":"1st","x":1,"y":1},{"s":"1st","x":3,"y":3},{"s":"1st","x":6,"y":5},{"s":"1st","x":9,"y":6},{"s":"1st","x":12,"y":7},{"s":"1st","x":15,"y":7},{"s":"1st","x":18,"y":7},{"s":"1st","x":21,"y":7},{"s":"1st","x":24,"y":8},{"s":"1st","x":27,"y":11},{"s":"1st","x":30,"y":15},{"s":"1st","x":33,"y":19},{"s":"1st","x":36,"y":23},{"s":"1st","x":39,"y":27},{"s":"1st","x":42,"y":31},{"s":"1st","x":45,"y":36},{"s":"1st","x":48,"y":41},
                {"s":"5th","x":1,"y":1},{"s":"5th","x":3,"y":3},{"s":"5th","x":6,"y":5},{"s":"5th","x":9,"y":7},{"s":"5th","x":12,"y":8},{"s":"5th","x":15,"y":8},{"s":"5th","x":18,"y":8},{"s":"5th","x":20,"y":9},{"s":"5th","x":22,"y":12},{"s":"5th","x":24,"y":15},{"s":"5th","x":26,"y":19},{"s":"5th","x":28,"y":23},{"s":"5th","x":30,"y":27},{"s":"5th","x":32,"y":31},{"s":"5th","x":34,"y":35},{"s":"5th","x":36,"y":39},{"s":"5th","x":38,"y":43},{"s":"5th","x":40,"y":47},
                {"s":"50th","x":2,"y":1},{"s":"50th","x":5,"y":3},{"s":"50th","x":8,"y":4},{"s":"50th","x":11,"y":5},{"s":"50th","x":14,"y":5},{"s":"50th","x":17,"y":5},{"s":"50th","x":20,"y":5},{"s":"50th","x":23,"y":4},{"s":"50th","x":26,"y":3},{"s":"50th","x":29,"y":2},{"s":"50th","x":31,"y":1},{"s":"50th","x":33,"y":2},{"s":"50th","x":36,"y":4},{"s":"50th","x":39,"y":5},{"s":"50th","x":42,"y":6},{"s":"50th","x":45,"y":7},{"s":"50th","x":48,"y":8},
                {"s":"100th","x":2,"y":1},{"s":"100th","x":5,"y":3},{"s":"100th","x":9,"y":5},{"s":"100th","x":13,"y":6},{"s":"100th","x":17,"y":6},{"s":"100th","x":21,"y":6},{"s":"100th","x":25,"y":6},{"s":"100th","x":29,"y":6},{"s":"100th","x":33,"y":6},{"s":"100th","x":37,"y":6},{"s":"100th","x":41,"y":6},{"s":"100th","x":44,"y":7},{"s":"100th","x":46,"y":10},{"s":"100th","x":48,"y":14},{"s":"100th","x":49.5,"y":18}
              ]},
              "mark": {"type": "point", "size": 16, "strokeWidth": 0.9, "filled": false, "opacity": 0.9},
              "encoding": {
                "x": {"field": "x", "type": "quantitative"},
                "y": {"field": "y", "type": "quantitative"},
                "shape": {"field": "s", "type": "nominal", "legend": null},
                "color": {"field": "s", "type": "nominal", "legend": null}
              }
            },
            {
              "data": {"values": [{"x": 1.5, "y": 46.5, "t": "PG@PMMA-30nm"}]},
              "mark": {"type": "text", "align": "left", "baseline": "middle", "fontSize": 9},
              "encoding": {"x": {"field": "x", "type": "quantitative"}, "y": {"field": "y", "type": "quantitative"}, "text": {"field": "t"}}
            }
          ]
        }
      ]
    },
    {
      "title": {"text": "i", "dx": -48, "offset": 1},
      "width": 235, "height": 195,
      "resolve": {"axis": {"x": "independent", "y": "independent"}},
      "layer": [
        {
          "layer": [
            {
              "data": {"values": [
                {"x": 4.3e-6, "x2": 1.5e-3, "y": -3.5, "y2": 79, "c": "a"},
                {"x": 2.0e-3, "x2": 1.16, "y": -3.5, "y2": 79, "c": "b"}
              ]},
              "mark": {"type": "rect"},
              "encoding": {
                "x": {"field": "x", "type": "quantitative", "scale": {"type": "log", "domain": [2.4e-6, 1.16], "nice": false}},
                "x2": {"field": "x2"},
                "y": {"field": "y", "type": "quantitative", "scale": {"domain": [-10, 100], "nice": false, "zero": false}},
                "y2": {"field": "y2"},
                "fill": {"field": "c", "type": "nominal", "legend": null, "scale": {"domain": ["a", "b"], "range": ["#ebebeb", "#f2f2f2"]}}
              }
            },
            {
              "data": {"values": [
                {"s":"PG","x":2.4e-6,"y":30},{"s":"PG","x":5.7e-6,"y":30},{"s":"PG","x":6.9e-6,"y":34},{"s":"PG","x":8.3e-6,"y":52},{"s":"PG","x":9.6e-6,"y":64},{"s":"PG","x":1.12e-5,"y":55},{"s":"PG","x":1.34e-5,"y":38},{"s":"PG","x":1.75e-5,"y":31},{"s":"PG","x":3.05e-5,"y":30},{"s":"PG","x":4.4e-5,"y":35},{"s":"PG","x":6.4e-5,"y":42},{"s":"PG","x":8.5e-5,"y":43.5},{"s":"PG","x":1.34e-4,"y":41},{"s":"PG","x":2.3e-4,"y":41},{"s":"PG","x":4.1e-4,"y":44},{"s":"PG","x":8.6e-4,"y":46},{"s":"PG","x":1.8e-3,"y":45.5},{"s":"PG","x":3.8e-3,"y":45},{"s":"PG","x":8e-3,"y":43},{"s":"PG","x":1.54e-2,"y":39},{"s":"PG","x":2.95e-2,"y":43},{"s":"PG","x":5.15e-2,"y":46},{"s":"PG","x":9e-2,"y":42},{"s":"PG","x":0.13,"y":41},{"s":"PG","x":0.207,"y":48},{"s":"PG","x":0.3,"y":52},{"s":"PG","x":0.44,"y":47},{"s":"PG","x":0.63,"y":35},{"s":"PG","x":0.83,"y":30},{"s":"PG","x":1.16,"y":30},
                {"s":"PMMA","x":2.4e-6,"y":0},{"s":"PMMA","x":5.7e-6,"y":0},{"s":"PMMA","x":6.9e-6,"y":4},{"s":"PMMA","x":8.3e-6,"y":14},{"s":"PMMA","x":9.6e-6,"y":20},{"s":"PMMA","x":1.12e-5,"y":16},{"s":"PMMA","x":1.34e-5,"y":6},{"s":"PMMA","x":1.75e-5,"y":1},{"s":"PMMA","x":3.05e-5,"y":0.5},{"s":"PMMA","x":4.4e-5,"y":1.5},{"s":"PMMA","x":6.4e-5,"y":3.5},{"s":"PMMA","x":8.5e-5,"y":4},{"s":"PMMA","x":1.34e-4,"y":3},{"s":"PMMA","x":2.3e-4,"y":1.5},{"s":"PMMA","x":4.1e-4,"y":2},{"s":"PMMA","x":8.6e-4,"y":3},{"s":"PMMA","x":1.8e-3,"y":3},{"s":"PMMA","x":3.8e-3,"y":4.5},{"s":"PMMA","x":8e-3,"y":5.5},{"s":"PMMA","x":1.54e-2,"y":5},{"s":"PMMA","x":2.95e-2,"y":3},{"s":"PMMA","x":5.15e-2,"y":2},{"s":"PMMA","x":9e-2,"y":2.5},{"s":"PMMA","x":0.13,"y":3.5},{"s":"PMMA","x":0.207,"y":5},{"s":"PMMA","x":0.3,"y":4.5},{"s":"PMMA","x":0.44,"y":1.5},{"s":"PMMA","x":0.63,"y":0.2},{"s":"PMMA","x":0.83,"y":0},{"s":"PMMA","x":1.16,"y":0}
              ]},
              "mark": {"type": "line", "strokeWidth": 1.3, "interpolate": "monotone"},
              "encoding": {
                "x": {"field": "x", "type": "quantitative", "axis": {"values": [0.00001, 0.0001, 0.001, 0.01, 0.1, 1], "labelExpr": "datum.value < 0.00005 ? '1E-5' : datum.value < 0.0005 ? '1E-4' : datum.value < 0.005 ? '0.001' : datum.value < 0.05 ? '0.01' : datum.value < 0.5 ? '0.1' : '1'", "title": "Relaxation time, τ (s)"}},
                "y": {"field": "y", "type": "quantitative", "axis": {"values": [0, 40, 80], "labelOverlap": false, "title": "γ (τ) (Ohm)"}},
                "color": {"field": "s", "type": "nominal", "legend": null, "scale": {"domain": ["PG", "PMMA"], "range": ["#e0658a", "#7b7bb5"]}}
              }
            },
            {
              "data": {"values": [
                {"s": "PG", "x": 1.04e-3, "x2": 4.7e-3, "y": 91.9, "t": "PG"},
                {"s": "PMMA", "x": 1.04e-3, "x2": 4.7e-3, "y": 85.4, "t": "PG@PMMA-30nm"}
              ]},
              "layer": [
                {"mark": {"type": "rule", "strokeWidth": 1.3}, "encoding": {"x": {"field": "x", "type": "quantitative"}, "x2": {"field": "x2"}, "y": {"field": "y", "type": "quantitative"}, "color": {"field": "s", "type": "nominal", "legend": null}}},
                {"mark": {"type": "text", "align": "left", "baseline": "middle", "fontSize": 11.5, "dx": 2}, "encoding": {"x": {"field": "x2", "type": "quantitative"}, "y": {"field": "y", "type": "quantitative"}, "text": {"field": "t"}}}
              ]
            },
            {
              "data": {"values": [
                {"s": "PG", "x": 9.1e-6, "y": 68.6, "t": "↓R₁"},
                {"s": "PG", "x": 7.0e-5, "y": 48.4, "t": "↓R₂"},
                {"s": "PG", "x": 2.18e-3, "y": 52.1, "t": "↓R₃"},
                {"s": "PG", "x": 0.047, "y": 50.8, "t": "↓R₄"},
                {"s": "PG", "x": 0.264, "y": 56.8, "t": "↓R₅"},
                {"s": "PMMA", "x": 9.1e-6, "y": 24.1, "t": "↓R₁"},
                {"s": "PMMA", "x": 7.0e-5, "y": 8.8, "t": "↓R₂"},
                {"s": "PMMA", "x": 5.4e-4, "y": 7.3, "t": "↓R₃"},
                {"s": "PMMA", "x": 6.1e-3, "y": 11.2, "t": "↓R₄"},
                {"s": "PMMA", "x": 0.207, "y": 10.6, "t": "↓R₅"}
              ]},
              "mark": {"type": "text", "align": "left", "baseline": "middle", "fontSize": 10.5, "fontStyle": "italic"},
              "encoding": {"x": {"field": "x", "type": "quantitative"}, "y": {"field": "y", "type": "quantitative"}, "text": {"field": "t"}, "color": {"field": "s", "type": "nominal", "legend": null}}
            },
            {
              "data": {"values": [
                {"x": 3.05e-5, "y": 69.5, "t": "Solid electrolyte"},
                {"x": 3.05e-5, "y": 63, "t": "interphase"},
                {"x": 4.6e-3, "y": 69.5, "t": "Charge transfer"}
              ]},
              "mark": {"type": "text", "align": "left", "baseline": "middle", "fontSize": 10, "fontStyle": "italic", "fontWeight": "bold"},
              "encoding": {"x": {"field": "x", "type": "quantitative"}, "y": {"field": "y", "type": "quantitative"}, "text": {"field": "t"}}
            }
          ]
        },
        {
          "data": {"values": [{"x": 0.001, "y": 50}]},
          "mark": {"type": "point", "opacity": 0},
          "encoding": {
            "x": {"field": "x", "type": "quantitative", "axis": {"orient": "bottom", "values": [3e-6, 4e-6, 5e-6, 6e-6, 7e-6, 8e-6, 9e-6, 2e-5, 3e-5, 4e-5, 5e-5, 6e-5, 7e-5, 8e-5, 9e-5, 2e-4, 3e-4, 4e-4, 5e-4, 6e-4, 7e-4, 8e-4, 9e-4, 2e-3, 3e-3, 4e-3, 5e-3, 6e-3, 7e-3, 8e-3, 9e-3, 0.02, 0.03, 0.04, 0.05, 0.06, 0.07, 0.08, 0.09, 0.2, 0.3, 0.4, 0.5, 0.6, 0.7, 0.8, 0.9], "labels": false, "title": null, "tickSize": -2.5}},
            "y": {"field": "y", "type": "quantitative", "axis": {"orient": "left", "values": [-10, 10, 30, 50, 70, 90], "labels": false, "title": null, "tickSize": -3}}
          }
        },
        {
          "data": {"values": [{"x": 0.001, "y": 50}]},
          "mark": {"type": "point", "opacity": 0},
          "encoding": {
            "x": {"field": "x", "type": "quantitative", "axis": null},
            "y": {"field": "y", "type": "quantitative", "axis": {"orient": "left", "values": [20, 60, 100], "labelOverlap": false, "title": null}}
          }
        }
      ]
    }
  ]
}
